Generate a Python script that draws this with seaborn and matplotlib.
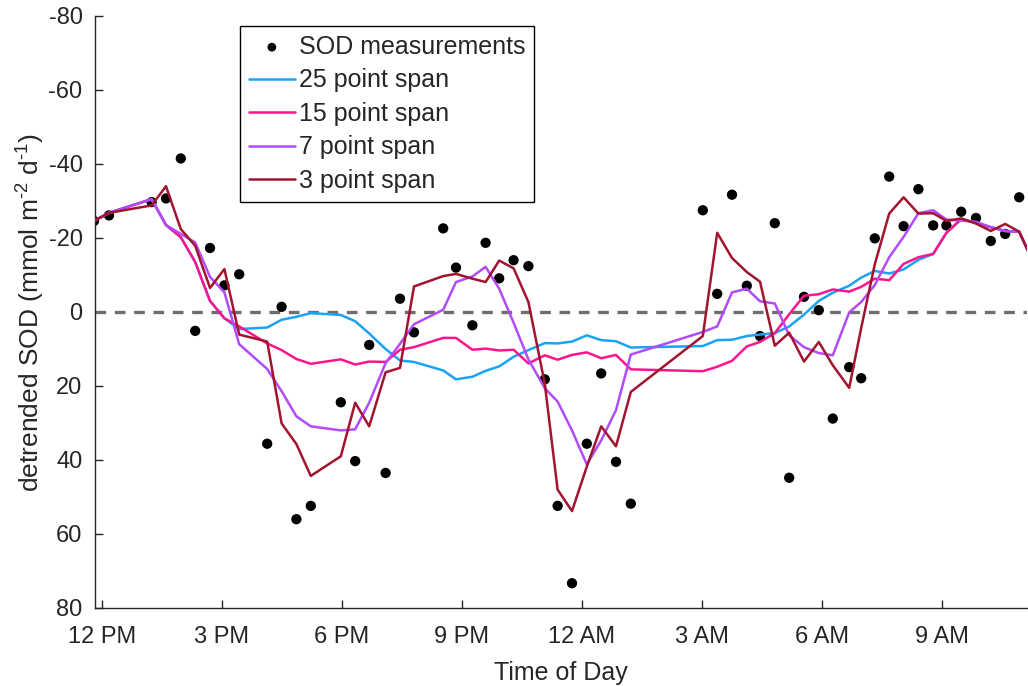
import numpy as np
import pandas as pd
import matplotlib
matplotlib.use("Agg")
import matplotlib.pyplot as plt
import seaborn as sns

# ---- data (hours since midnight of day 1; >24 = next morning) ----
time_h = [11.80, 12.175, 13.24, 13.60, 13.97, 14.33, 14.70, 15.06, 15.43, 16.13,
          16.49, 16.86, 17.22, 17.97, 18.33, 18.68, 19.09, 19.45, 19.80, 20.53,
          20.85, 21.26, 21.59, 21.93, 22.29, 22.66, 23.07, 23.39, 23.75, 24.12,
          24.48, 24.85, 25.22, 27.02, 27.38, 27.75, 28.12, 28.45, 28.82, 29.18,
          29.55, 29.92, 30.27, 30.68, 30.98, 31.32, 31.68, 32.04, 32.41, 32.78,
          33.11, 33.48, 33.85, 34.22, 34.58, 34.93, 35.30]

sod = [-24.6, -26.1, -29.7, -30.7, -41.5, 5.1, -17.3, -7.2, -10.2, 35.6,
       -1.4, 56.0, 52.4, 24.4, 40.3, 8.9, 43.5, -3.6, 5.5, -22.6,
       -12.0, 3.6, -18.7, -9.1, -14.0, -12.4, 18.2, 52.4, 73.3, 35.6,
       16.6, 40.5, 51.8, -27.5, -4.9, -31.7, -7.1, 6.5, -24.0, 44.8,
       -4.1, -0.5, 28.8, 14.9, 17.9, -19.9, -36.6, -23.2, -33.2, -23.4,
       -23.4, -27.1, -25.4, -19.2, -21.1, -31.0, -13.0]

span25 = [-24.6, -26.8, -30.5, -23.5, -20.2, -13.5, -3.0, 1.7, 4.6, 4.2,
          2.1, 1.3, 0.3, 0.8, 2.5, 5.8, 10.0, 13.1, 13.5, 15.8,
          18.2, 17.5, 15.9, 14.7, 12.1, 10.3, 8.4, 8.5, 8.0, 6.3,
          7.6, 7.9, 9.6, 9.2, 7.6, 7.5, 6.5, 6.1, 5.7, 3.9,
          0.7, -3.0, -5.2, -7.1, -9.3, -11.1, -10.4, -11.5, -14.1, -15.7,
          -21.4, -25.1, -24.1, -22.9, -21.9, -21.7, -13.0]

span15 = [-24.6, -26.8, -30.5, -23.5, -20.2, -13.5, -3.0, 1.7, 3.9, 8.5,
          10.3, 12.7, 14.0, 12.8, 14.2, 13.4, 13.5, 10.2, 9.5, 7.0,
          7.0, 10.2, 9.9, 10.4, 10.2, 13.9, 11.7, 12.9, 11.6, 10.9,
          12.5, 11.6, 15.5, 16.0, 14.8, 13.2, 9.3, 8.1, 5.7, 0.6,
          -4.4, -4.8, -6.1, -5.5, -6.8, -9.0, -8.6, -13.0, -14.8, -15.7,
          -21.4, -25.1, -24.1, -22.9, -21.9, -21.7, -13.0]

span7 = [-24.6, -26.8, -30.5, -23.5, -21.1, -18.8, -9.5, -5.3, 8.7, 15.4,
         21.4, 28.2, 30.9, 32.0, 31.7, 24.5, 13.8, 8.6, 3.3, -0.6,
         -8.1, -9.6, -12.2, -6.3, 2.9, 12.8, 20.6, 24.2, 32.0, 41.2,
         34.7, 26.5, 11.5, 5.4, 3.9, -5.3, -6.3, -2.9, -2.3, 6.3,
         9.5, 11.1, 11.7, 0.1, -2.7, -7.3, -14.8, -20.3, -26.7, -27.5,
         -25.0, -24.7, -24.4, -22.9, -21.9, -21.7, -13.0]

span3 = [-24.6, -26.8, -28.8, -34.0, -22.4, -17.9, -6.5, -11.6, 6.1, 8.0,
         30.1, 35.7, 44.3, 39.0, 24.5, 30.9, 16.3, 15.1, -6.9, -9.7,
         -10.3, -9.0, -8.1, -13.9, -11.8, -2.7, 19.4, 48.0, 53.8, 41.8,
         30.9, 36.3, 21.6, 6.5, -21.4, -14.6, -10.8, -8.2, 9.1, 5.6,
         13.4, 8.1, 14.4, 20.5, 4.3, -12.9, -26.6, -31.0, -26.6, -26.7,
         -24.6, -25.3, -23.9, -21.9, -23.8, -21.7, -13.0]

xtick_pos = [12, 15, 18, 21, 24, 27, 30, 33]
xtick_labels = ["12 PM", "3 PM", "6 PM", "9 PM", "12 AM", "3 AM", "6 AM", "9 AM"]
ytick_pos = [-80, -60, -40, -20, 0, 20, 40, 60, 80]

series_names = ["25 point span", "15 point span", "7 point span", "3 point span"]
series_vals = [span25, span15, span7, span3]
series_colors = ["#1AA3F5", "#FF148E", "#B24BFA", "#A2142F"]

# ---- style ----
sns.set_style("white")
plt.rcParams["font.family"] = ["Liberation Sans", "DejaVu Sans"]
plt.rcParams["axes.unicode_minus"] = False
plt.rcParams["mathtext.fontset"] = "custom"
plt.rcParams["mathtext.rm"] = "Liberation Sans"
plt.rcParams["mathtext.it"] = "Liberation Sans:italic"
plt.rcParams["mathtext.bf"] = "Liberation Sans:bold"
ink = "#262626"

fig = plt.figure(figsize=(10.28, 6.86), dpi=100)
ax = fig.add_axes([95 / 1028, 78 / 686, 932 / 1028, 592 / 686])

ax.axhline(0, color="#6E6E6E", lw=2.4, ls=(0, (3.2, 2.6)), zorder=1)

sns.scatterplot(x=time_h, y=sod, ax=ax, color="black", s=55, edgecolor="none",
                label="SOD measurements", zorder=2, legend=False)
for name, vals, col in zip(series_names, series_vals, series_colors):
    sns.lineplot(x=time_h, y=vals, ax=ax, color=col, lw=1.8, sort=False,
                 estimator=None, label=name, zorder=3, legend=False)

ax.set_xlim(11.825, 35.125)
ax.set_ylim(80, -80)
ax.set_xticks(xtick_pos)
ax.set_xticklabels(xtick_labels)
ax.set_yticks(ytick_pos)
ax.set_yticklabels([str(v) for v in ytick_pos])

for side in ["top", "right"]:
    ax.spines[side].set_visible(False)
for side in ["left", "bottom"]:
    ax.spines[side].set_color(ink)
    ax.spines[side].set_linewidth(1.0)

ax.tick_params(axis="both", direction="in", length=6, width=1.0, color=ink,
               labelcolor=ink, labelsize=17, bottom=True, left=True)
ax.tick_params(axis="x", pad=13)
ax.tick_params(axis="y", pad=9)

ax.set_xlabel("Time of Day", fontsize=18, color=ink, labelpad=9)
ax.set_ylabel(r"detrended SOD (mmol m$^{\text{-2}}$ d$^{\text{-1}}$)", fontsize=19,
              color=ink, labelpad=1)

handles, labels = ax.get_legend_handles_labels()
leg = ax.legend(handles, labels, loc="upper left",
                bbox_to_anchor=((240 - 95) / 932, (608 - 26) / 592),
                fontsize=18, frameon=True, fancybox=False, framealpha=1,
                edgecolor="black", borderpad=0.35, labelspacing=0.38,
                handlelength=1.85, handletextpad=0.15, borderaxespad=0,
                markerscale=0.85)
leg.get_frame().set_linewidth(1.0)

fig.savefig("out.png", dpi=100)
